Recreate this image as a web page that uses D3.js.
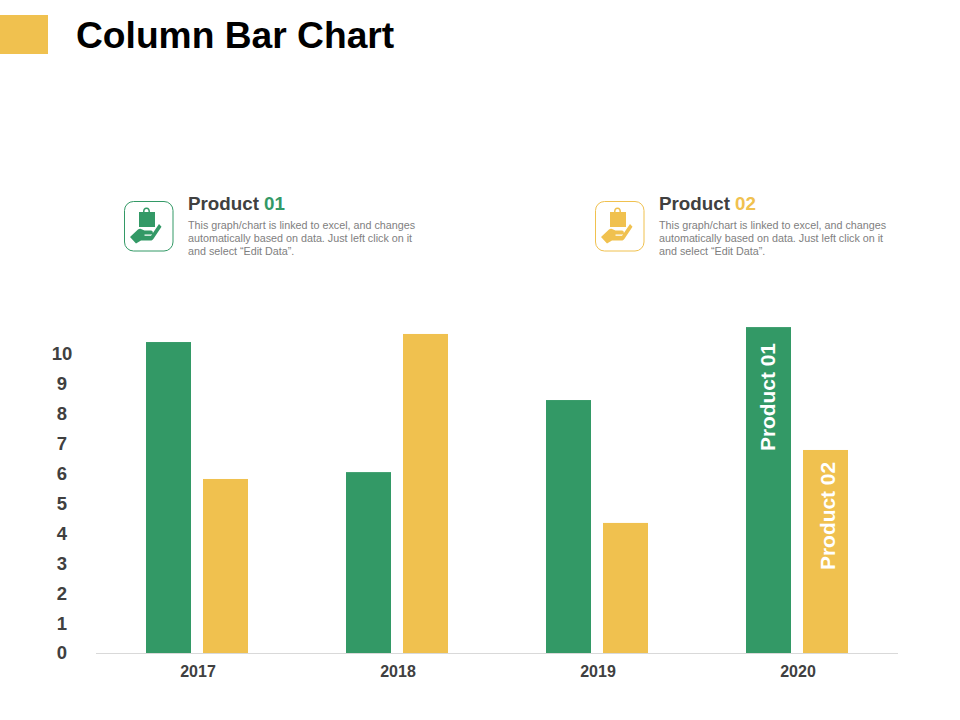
<!DOCTYPE html>
<meta charset="utf-8">
<style>

html, body {
  margin: 0;
  background: #fff;
}

text {
  font-family: "Liberation Sans", Arial, sans-serif;
}

.axis text {
  font-weight: bold;
  fill: #404040;
}

.axis path, .axis line {
  display: none;
}

</style>
<svg width="960" height="720"></svg>
<script src="https://d3js.org/d3.v7.min.js"></script>
<script>

var years = ["2017", "2018", "2019", "2020"],
    products = ["Product 01", "Product 02"],
    product01 = [10.4, 6.05, 8.46, 10.9],
    product02 = [5.82, 10.67, 4.35, 6.79],
    yTicks = [0, 1, 2, 3, 4, 5, 6, 7, 8, 9, 10],
    descLines = [
      "This graph/chart is linked to excel, and changes",
      "automatically based on data. Just left click on it",
      "and select \u201cEdit Data\u201d."
    ];

var colors = ["#339966", "#f0c14f"];

var svg = d3.select("svg"),
    margin = {top: 354, right: 62, bottom: 67, left: 98},
    width = +svg.attr("width") - margin.left - margin.right,
    height = +svg.attr("height") - margin.top - margin.bottom;

var x0 = d3.scaleBand().domain(years).range([0, width]),
    x1 = d3.scaleBand().domain(products).range([0, 102]).paddingInner(12 / 57),
    y = d3.scaleLinear().domain([0, 10]).range([height, 0]);

// title block
svg.append("rect")
    .attr("x", 0).attr("y", 15)
    .attr("width", 48).attr("height", 39)
    .attr("fill", colors[1]);

svg.append("text")
    .attr("x", 76).attr("y", 47.5)
    .attr("font-size", 37.2)
    .attr("font-weight", "bold")
    .attr("fill", "#000")
    .text("Column Bar Chart");

// legend blocks with the hand icon
function legend(px, index) {
  var color = colors[index],
      parts = products[index].split(" ");

  var icon = svg.append("g").attr("transform", "translate(" + px + ",201)");

  icon.append("rect")
      .attr("x", 0.5).attr("y", 0.5)
      .attr("width", 48.5).attr("height", 49.5)
      .attr("rx", 9)
      .attr("fill", "#fff")
      .attr("stroke", color)
      .attr("stroke-width", 1);

  // bag
  icon.append("path")
      .attr("fill", color)
      .attr("fill-rule", "evenodd")
      .attr("d", "M15 11h4c0-3 1-4.500 3.500-4.500s3.500 1.500 3.500 4.500h5v15H15z M20.500 11h4c0-2-.5-3-2-3s-2 1-2 3z");

  // hand
  icon.append("path")
      .attr("fill", color)
      .attr("d", "M6 36l8-7.500c1-.7 2-1 3-.5l3.500 1.500h6.500c2.500 0 2.500 4 0 4h-6.500v1.200h6.500l8-11.700 2.500 2.700-8 12c-.8 1.200-1.500 1.800-3 1.800H17l-5 3z");

  var tx = px + 64;

  svg.append("text")
      .attr("x", tx).attr("y", 210)
      .attr("font-size", 18.8)
      .attr("font-weight", "bold")
      .attr("fill", "#404040")
      .text(parts[0]);

  svg.append("text")
      .attr("x", tx + 76).attr("y", 210)
      .attr("font-size", 18.8)
      .attr("font-weight", "bold")
      .attr("fill", color)
      .text(parts[1]);

  svg.selectAll(null)
    .data(descLines)
    .enter().append("text")
      .attr("x", tx)
      .attr("y", function(d, i) { return 229 + i * 13; })
      .attr("font-size", 10.75)
      .attr("fill", "#808080")
      .text(function(d) { return d; });
}

legend(124, 0);
legend(595, 1);

var g = svg.append("g")
    .attr("transform", "translate(" + margin.left + "," + margin.top + ")");

// baseline
g.append("line")
    .attr("x1", -2).attr("x2", width)
    .attr("y1", height + 0.5).attr("y2", height + 0.5)
    .attr("stroke", "#d9d9d9");

g.append("g")
    .attr("class", "axis axis--x")
    .attr("transform", "translate(0," + height + ")")
    .call(d3.axisBottom(x0).tickSize(0).tickPadding(12.5))
    .selectAll("text")
    .attr("font-size", 16);

g.append("g")
    .attr("class", "axis axis--y")
    .call(d3.axisLeft(y).tickValues(yTicks).tickSize(0))
    .selectAll("text")
    .attr("font-size", 18.5)
    .attr("text-anchor", "middle")
    .attr("x", -36);

// bars, one group per year
var seriesValues = [product01, product02];

var year = g.selectAll(".year")
    .data(years)
  .enter().append("g")
    .attr("class", "year")
    .attr("transform", function(d) { return "translate(" + (x0(d) + x0.bandwidth() / 2 - 52) + ",0)"; });

year.selectAll("rect")
    .data(function(d, i) {
      return products.map(function(p, k) { return {product: p, k: k, value: seriesValues[k][i]}; });
    })
  .enter().append("rect")
    .attr("x", function(d) { return x1(d.product); })
    .attr("y", function(d) { return y(d.value); })
    .attr("width", x1.bandwidth())
    .attr("height", function(d) { return height - y(d.value); })
    .attr("fill", function(d) { return colors[d.k]; });

// series names written inside the last pair of bars
var last = years.length - 1,
    labelInset = [16, 12],
    labelShift = [6.5, 9.5];

g.selectAll(".inlabel")
    .data(products)
  .enter().append("text")
    .attr("class", "inlabel")
    .attr("transform", function(d, k) {
      var cx = x0(years[last]) + x0.bandwidth() / 2 - 52 + x1(d) + x1.bandwidth() / 2,
          top = y(seriesValues[k][last]) + labelInset[k];
      return "translate(" + (cx + labelShift[k]) + "," + top + ") rotate(-90)";
    })
    .attr("text-anchor", "end")
    .attr("font-size", 20.9)
    .attr("font-weight", "bold")
    .attr("fill", "#fff")
    .text(function(d) { return d; });

</script>
